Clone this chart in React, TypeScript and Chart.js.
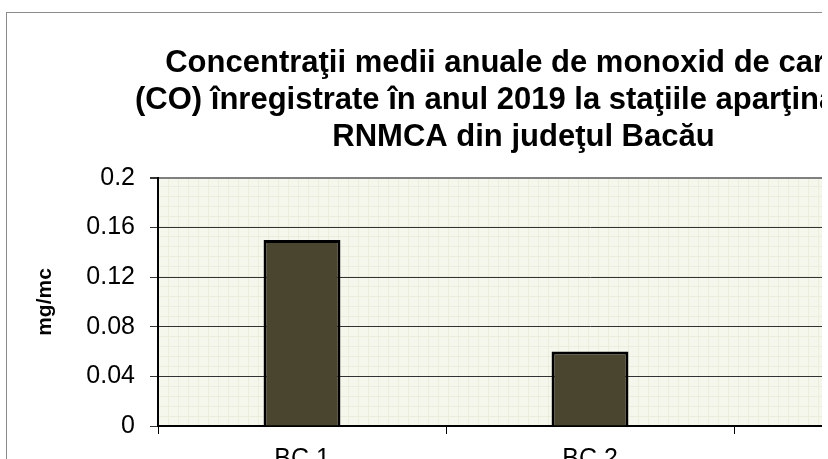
import React, { useEffect, useRef } from "react";
import { Chart, registerables } from "chart.js";

Chart.register(...registerables);

const titleLines = [
  "Concentraţii medii anuale de monoxid de carbon",
  "(CO) înregistrate în anul 2019 la staţiile aparţinătoare",
  "RNMCA din judeţul Bacău",
];
const categories = ["BC 1", "BC 2", "BC 3"];
const values: (number | null)[] = [0.15, 0.06, null];
const yTicks = [0, 0.04, 0.08, 0.12, 0.16, 0.2];
const yTitle = "mg/mc";

const FONT = "'Liberation Sans', Arial, Helvetica, sans-serif";
const CW = 1033;
const CH = 480;

const plotBg = {
  id: "plotBg",
  beforeDraw(chart: any) {
    const { ctx, chartArea: a } = chart;
    ctx.save();
    ctx.fillStyle = "#F5F7EC";
    ctx.fillRect(a.left, a.top, a.right - a.left, a.bottom - a.top);
    ctx.strokeStyle = "#EAEEDD";
    ctx.lineWidth = 1;
    ctx.beginPath();
    for (let x = a.left + 10; x < a.right; x += 10) {
      ctx.moveTo(Math.round(x) + 0.5, a.top);
      ctx.lineTo(Math.round(x) + 0.5, a.bottom);
    }
    for (let y = a.bottom - 10; y > a.top; y -= 10) {
      ctx.moveTo(a.left, Math.round(y) + 0.5);
      ctx.lineTo(a.right, Math.round(y) + 0.5);
    }
    ctx.stroke();
    ctx.restore();
  },
};

export default function App() {
  const ref = useRef<HTMLCanvasElement>(null);
  useEffect(() => {
    if (!ref.current) return;
    const chart = new Chart(ref.current, {
      type: "bar",
      data: {
        labels: categories,
        datasets: [
          {
            data: values as any,
            backgroundColor: "#4A452E",
            borderColor: "#000000",
            borderWidth: 3,
            categoryPercentage: 1,
            barPercentage: 0.267,
          },
        ],
      },
      options: {
        animation: false,
        responsive: false,
        devicePixelRatio: 1,
        layout: { padding: { left: 18, right: 18, top: 0, bottom: 0 } },
        plugins: {
          legend: { display: false },
          tooltip: { enabled: false },
          title: {
            display: true,
            text: titleLines,
            color: "#000",
            font: { family: FONT, size: 31, weight: "bold", lineHeight: 37 / 31 },
            padding: { top: 32, bottom: 22 },
          },
        },
        scales: {
          x: {
            grid: {
              offset: true,
              drawOnChartArea: false,
              drawTicks: true,
              tickLength: 8,
              color: "#000",
              tickColor: "#000",
            },
            border: { color: "#000", width: 2 },
            ticks: {
              color: "#000",
              font: { family: FONT, size: 25 },
              padding: 10,
              maxRotation: 0,
            },
            afterFit: (s: any) => {
              s.height = CH - 413;
            },
          },
          y: {
            min: 0,
            max: 0.2,
            afterBuildTicks: (s: any) => {
              s.ticks = yTicks.map((v) => ({ value: v }));
            },
            ticks: {
              color: "#000",
              font: { family: FONT, size: 25 },
              padding: 15,
              callback: (v: any) => String(Math.round(Number(v) * 100) / 100),
            },
            grid: {
              color: (c: any) => (c.tick && c.tick.value >= 0.2 ? "#808080" : "#333333"),
              lineWidth: (c: any) => (c.tick && c.tick.value >= 0.2 ? 2 : 1),
              tickColor: "#333333",
              tickLength: 8,
            },
            border: { color: "#000", width: 2 },
            title: {
              display: true,
              text: yTitle,
              color: "#000",
              font: { family: FONT, size: 21, weight: "bold" },
              padding: { top: 8, bottom: 0 },
            },
            afterFit: (s: any) => {
              s.width = 133;
            },
          },
        },
      },
      plugins: [plotBg],
    });
    return () => chart.destroy();
  }, []);

  return (
    <div
      style={{
        position: "absolute",
        left: 0,
        top: 0,
        width: 822,
        height: 459,
        overflow: "hidden",
        background: "#fff",
      }}
    >
      <div
        style={{
          position: "absolute",
          left: 6,
          top: 12,
          width: CW,
          height: CH,
          border: "1px solid #8C8C8C",
          background: "#fff",
        }}
      >
        <canvas ref={ref} width={CW} height={CH} style={{ display: "block" }} />
      </div>
    </div>
  );
}
